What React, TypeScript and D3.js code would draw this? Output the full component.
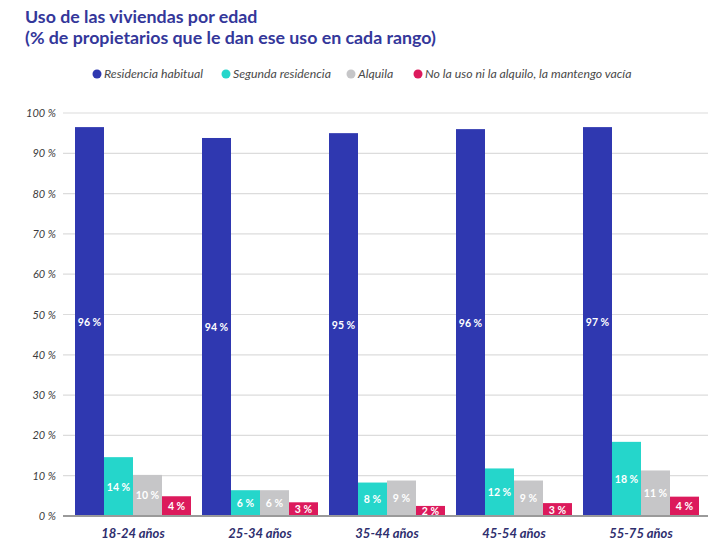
import React, { useEffect, useRef } from 'react';
import * as d3 from 'd3';

// categories and series (bar heights, labels as printed)
const categories = ['18-24 años', '25-34 años', '35-44 años', '45-54 años', '55-75 años'];
const seriesNames = ['Residencia habitual', 'Segunda residencia', 'Alquila', 'No la uso ni la alquilo, la mantengo vacía'];
const seriesColors = ['#2f38b0', '#25d6cb', '#c6c6c8', '#dc1a5c'];

const habitual = [96.5, 93.8, 95.0, 96.0, 96.5];
const segunda = [14.6, 6.4, 8.3, 11.8, 18.4];
const alquila = [10.2, 6.4, 8.8, 8.8, 11.3];
const vacia = [4.9, 3.4, 2.5, 3.2, 4.8];

const habitualLabels = ['96 %', '94 %', '95 %', '96 %', '97 %'];
const segundaLabels = ['14 %', '6 %', '8 %', '12 %', '18 %'];
const alquilaLabels = ['10 %', '6 %', '9 %', '9 %', '11 %'];
const vaciaLabels = ['4 %', '3 %', '2 %', '3 %', '4 %'];

const yTicks = [0, 10, 20, 30, 40, 50, 60, 70, 80, 90, 100];

const W = 727;
const H = 556;

const App: React.FC = () => {
  const svgRef = useRef<SVGSVGElement>(null);

  useEffect(() => {
    const svg = d3.select(svgRef.current);
    svg.selectAll('*').remove();

    const values = [habitual, segunda, alquila, vacia];
    const labels = [habitualLabels, segundaLabels, alquilaLabels, vaciaLabels];

    const plot = { left: 63, right: 708, top: 113, bottom: 516 };

    const y = d3.scaleLinear().domain([0, 100]).range([plot.bottom, plot.top]);

    const x0 = d3.scaleBand()
      .domain(categories)
      .range([75, 699])
      .paddingInner(0.0866)
      .paddingOuter(0);

    const x1 = d3.scaleBand()
      .domain(d3.range(4).map(String))
      .range([0, x0.bandwidth()])
      .padding(0);

    // Title
    const title = svg.append('g').attr('font-family', 'Lato, sans-serif')
      .attr('font-weight', 700).attr('fill', '#34379a').attr('font-size', 17.8);
    title.append('text').attr('x', 25).attr('y', 23).text('Uso de las viviendas por edad');
    title.append('text').attr('x', 25).attr('y', 44).text('(% de propietarios que le dan ese uso en cada rango)');

    // Legend
    const legendX = [97, 226, 351, 418];
    const legend = svg.append('g');
    seriesNames.forEach((name, i) => {
      legend.append('circle')
        .attr('cx', legendX[i]).attr('cy', 74).attr('r', 4.5)
        .attr('fill', seriesColors[i]);
      legend.append('text')
        .attr('x', legendX[i] + 7).attr('y', 78)
        .attr('font-family', 'Lato, sans-serif')
        .attr('font-style', 'italic')
        .attr('font-size', 12.3)
        .attr('fill', '#4a4a4a')
        .text(name);
    });

    // Gridlines
    svg.append('g')
      .selectAll('line')
      .data(yTicks.slice(1))
      .enter()
      .append('line')
      .attr('x1', plot.left).attr('x2', plot.right)
      .attr('y1', d => y(d)).attr('y2', d => y(d))
      .attr('stroke', '#dcdcdc').attr('stroke-width', 1.2);

    // Y tick labels
    svg.append('g')
      .selectAll('text')
      .data(yTicks)
      .enter()
      .append('text')
      .attr('x', 56).attr('y', d => y(d) + 4)
      .attr('text-anchor', 'end')
      .attr('font-family', 'Lato, sans-serif')
      .attr('font-style', 'italic')
      .attr('font-size', 11)
      .attr('fill', '#3c3c3c')
      .text(d => `${d} %`);

    // Bars
    const groups = svg.append('g')
      .selectAll('g')
      .data(categories)
      .enter()
      .append('g')
      .attr('transform', d => `translate(${x0(d)},0)`);

    values.forEach((series, s) => {
      groups.append('rect')
        .attr('x', x1(String(s)) as number)
        .attr('y', (_, i) => y(series[i]))
        .attr('width', x1.bandwidth())
        .attr('height', (_, i) => y(0) - y(series[i]))
        .attr('fill', seriesColors[s]);

      groups.append('text')
        .attr('x', (x1(String(s)) as number) + x1.bandwidth() / 2)
        .attr('y', (_, i) => (y(series[i]) + y(0)) / 2 + 4)
        .attr('text-anchor', 'middle')
        .attr('font-family', 'Lato, sans-serif')
        .attr('font-weight', 700)
        .attr('font-size', 10.5)
        .attr('fill', '#ffffff')
        .text((_, i) => labels[s][i]);
    });

    // Baseline
    svg.append('line')
      .attr('x1', plot.left).attr('x2', plot.right)
      .attr('y1', y(0)).attr('y2', y(0))
      .attr('stroke', '#9a9a9a').attr('stroke-width', 2);

    // Category labels
    svg.append('g')
      .selectAll('text')
      .data(categories)
      .enter()
      .append('text')
      .attr('x', d => (x0(d) as number) + x0.bandwidth() / 2)
      .attr('y', 538)
      .attr('text-anchor', 'middle')
      .attr('font-family', 'Lato, sans-serif')
      .attr('font-style', 'italic')
      .attr('font-weight', 700)
      .attr('font-size', 13)
      .attr('fill', '#2e2e6e')
      .text(d => d);
  }, []);

  return (
    <svg
      ref={svgRef}
      width={W}
      height={H}
      style={{ position: 'absolute', left: 0, top: 0, background: '#ffffff' }}
    />
  );
};

export default App;
